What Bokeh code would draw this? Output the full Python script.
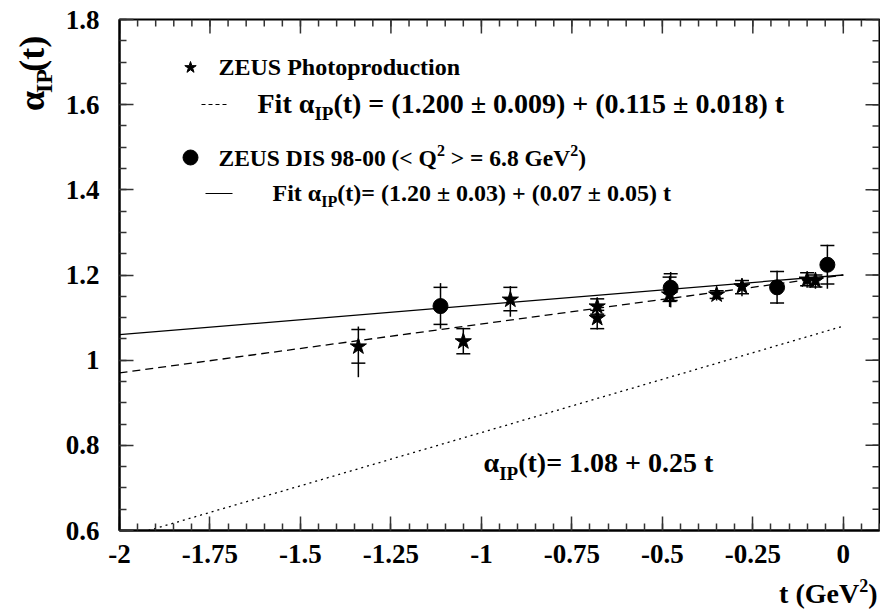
import math
from bokeh.plotting import figure
from bokeh.models import Label, FixedTicker, Range1d
from bokeh.layouts import row, column
from bokeh.embed import file_html
from bokeh.resources import INLINE

# ---------------- data ----------------
# ZEUS photoproduction (stars): point, stat-error caps, total-error extent
photo_t = [-1.34, -1.05, -0.92, -0.68, -0.68, -0.48, -0.35, -0.28, -0.10, -0.077]
photo_a = [1.032, 1.044, 1.142, 1.126, 1.099, 1.154, 1.154, 1.173, 1.189, 1.187]
photo_stat_lo = [0.993, 1.015, 1.116, 1.108, 1.074, 1.138, 1.145, 1.156, 1.175, 1.172]
photo_stat_hi = [1.072, 1.074, 1.171, 1.144, 1.117, 1.195, 1.163, 1.187, 1.205, 1.200]
photo_tot_lo = [0.960, 1.015, 1.102, 1.108, 1.072, 1.125, 1.140, 1.150, 1.170, 1.168]
photo_tot_hi = [1.079, 1.076, 1.174, 1.148, 1.117, 1.198, 1.165, 1.190, 1.207, 1.203]

# ZEUS DIS 98-00 (circles)
dis_t = [-1.113, -0.477, -0.183, -0.044]
dis_a = [1.127, 1.170, 1.171, 1.224]
dis_stat_lo = [1.084, 1.140, 1.134, 1.179]
dis_stat_hi = [1.171, 1.203, 1.208, 1.269]
dis_tot_lo = [1.074, 1.124, 1.132, 1.168]
dis_tot_hi = [1.181, 1.207, 1.210, 1.271]

# fits: intercept, slope
fit_photo = (1.200, 0.115)
fit_dis = (1.20, 0.07)
fit_regge = (1.08, 0.25)
fit_t = [-2.0, 0.0]

x_ticks = [-2, -1.75, -1.5, -1.25, -1, -0.75, -0.5, -0.25, 0]
x_tick_labels = ["-2", "-1.75", "-1.5", "-1.25", "-1", "-0.75", "-0.5", "-0.25", "0"]
y_ticks = [0.6, 0.8, 1.0, 1.2, 1.4, 1.6, 1.8]
y_tick_labels = ["0.6", "0.8", "1", "1.2", "1.4", "1.6", "1.8"]
x_minor = [round(-2 + 0.05 * i, 2) for i in range(43)]
y_minor = [round(0.6 + 0.05 * i, 2) for i in range(25)]
X0, X1, Y0, Y1 = -2.0, 0.1, 0.6, 1.8

FONT = "Liberation Serif"

# ---------------- layout geometry (page px) ----------------
W, H = 880, 616
FL, FR, FT, FB = 119, 879, 19, 530     # plot frame
YT_W = 60                               # strip left of the plot for the y title
XT_TOP = 575                            # strip below the plot for the x title

def blank(width, height, xr, yr):
    f = figure(width=width, height=height, x_range=xr, y_range=yr, output_backend="svg",
               toolbar_location=None, x_axis_location=None, y_axis_location=None,
               min_border=0, outline_line_color=None)
    f.background_fill_color = "white"
    f.border_fill_color = "white"
    f.grid.visible = False
    return f

# ---------------- main figure ----------------
p = figure(width=W - YT_W, height=XT_TOP, x_range=Range1d(X0, X1), y_range=Range1d(Y0, Y1),
           output_backend="svg", toolbar_location=None,
           min_border_left=FL - YT_W, min_border_right=W - FR, min_border_top=FT,
           min_border_bottom=XT_TOP - FB)
p.xgrid.visible = False
p.ygrid.visible = False
p.outline_line_color = "black"
p.outline_line_width = 2
p.background_fill_color = "white"
p.border_fill_color = "white"

xb = p.below[0]
yl = p.left[0]
xb.ticker = FixedTicker(ticks=x_ticks, minor_ticks=x_minor)
yl.ticker = FixedTicker(ticks=y_ticks, minor_ticks=y_minor)
xb.major_label_overrides = {float(t): l for t, l in zip(x_ticks, x_tick_labels)}
yl.major_label_overrides = {float(t): l for t, l in zip(y_ticks, y_tick_labels)}

for ax in [xb, yl]:
    ax.major_tick_in = 14
    ax.major_tick_out = 0
    ax.minor_tick_in = 7
    ax.minor_tick_out = 0
    ax.axis_line_width = 2
    ax.axis_line_color = "black"
    ax.major_tick_line_width = 1.5
    ax.minor_tick_line_width = 1.5
    ax.major_tick_line_color = "#333333"
    ax.minor_tick_line_color = "#333333"
    ax.major_label_text_font = FONT
    ax.major_label_text_font_style = "bold"
    ax.major_label_text_font_size = "27px"
    ax.major_label_text_color = "black"
xb.major_label_standoff = 14
yl.major_label_standoff = 20

# mirrored inward ticks on top and right edges
xpu = (FR - FL) / (X1 - X0)   # px per unit t
ypu = (FB - FT) / (Y1 - Y0)   # px per unit alpha
def top_ticks(ticks, length):
    p.segment(x0=ticks, y0=[Y1] * len(ticks), x1=ticks, y1=[Y1 - length / ypu] * len(ticks),
              line_color="#333333", line_width=1.5)
def right_ticks(ticks, length):
    p.segment(x0=[X1] * len(ticks), y0=ticks, x1=[X1 - length / xpu] * len(ticks), y1=ticks,
              line_color="#333333", line_width=1.5)
top_ticks(x_ticks, 14)
top_ticks(x_minor, 7)
right_ticks(y_ticks, 14)
right_ticks(y_minor, 7)

# ---------------- fit lines ----------------
p.line(fit_t, [fit_dis[0] + fit_dis[1] * t for t in fit_t], line_color="black", line_width=1.3)
p.line(fit_t, [fit_photo[0] + fit_photo[1] * t for t in fit_t], line_color="black", line_width=1.3,
       line_dash="8 5")
p.line(fit_t, [fit_regge[0] + fit_regge[1] * t for t in fit_t], line_color="black", line_width=1.3,
       line_dash="2 4")

# ---------------- data points ----------------
def errbars(t, lo, hi, slo, shi):
    p.segment(x0=t, y0=lo, x1=t, y1=hi, line_color="black", line_width=1.5)
    p.scatter(t, slo, marker="dash", size=14, line_color="black", line_width=1.5)
    p.scatter(t, shi, marker="dash", size=14, line_color="black", line_width=1.5)

errbars(photo_t, photo_tot_lo, photo_tot_hi, photo_stat_lo, photo_stat_hi)
errbars(dis_t, dis_tot_lo, dis_tot_hi, dis_stat_lo, dis_stat_hi)
p.scatter(photo_t, photo_a, marker="star", size=17, fill_color="black", line_color="black")
p.scatter(dis_t, dis_a, marker="circle", size=15, fill_color="black", line_color="black")

# ---------------- text helpers ----------------
def X(px):
    return X0 + (px - FL) / xpu

def Y(py):
    return Y1 - (py - FT) / ypu

def ident(v):
    return v

WID = {' ': 0.25, '(': 0.333, ')': 0.333, '+': 0.57, '=': 0.57, '±': 0.57, '.': 0.25,
       '-': 0.333, '<': 0.57, '>': 0.57, 't': 0.333, 'F': 0.611, 'i': 0.278, 'I': 0.389,
       'P': 0.611, 'G': 0.778, 'e': 0.444, 'V': 0.722, 'Q': 0.778, 'Z': 0.667, 'E': 0.667,
       'U': 0.722, 'S': 0.556, 'D': 0.722, 'α': 0.56}

def tw(s, size):
    return sum(WID.get(c, 0.5) for c in s) * size

def rich(fig, parts, px, base, angle=0.0, xm=X, ym=Y):
    """parts: (text, size, shift) with shift in px below the main baseline."""
    adv = 0.0
    for text, size, dy in parts:
        lead = len(text) - len(text.lstrip(' '))
        adv += lead * WID[' '] * size
        body = text.lstrip(' ')
        if angle == 0:
            cx, cy = px + adv, base + dy - 0.34 * size
        else:
            cx, cy = px + dy - 0.34 * size, base - adv
        fig.add_layout(Label(x=xm(cx), y=ym(cy), text=body, angle=angle,
                             text_font=FONT, text_font_size=f"{size}px", text_font_style="bold",
                             text_baseline="middle", text_align="left", text_color="black"))
        adv += tw(body, size)
    return adv

# legend
p.scatter([X(190)], [Y(67)], marker="star", size=12, fill_color="black", line_color="black")
rich(p, [("ZEUS Photoproduction", 24, 0)], 218, 75)
p.line([X(201), X(226)], [Y(104), Y(104)], line_color="black", line_width=1, line_dash="4 3")
rich(p, [("Fit α", 28, 0), ("IP", 19, 6), ("(t) = (1.200 ± 0.009) + (0.115 ± 0.018) t", 28, 0)], 257, 113)
p.scatter([X(190)], [Y(157)], marker="circle", size=15, fill_color="black", line_color="black")
rich(p, [("ZEUS DIS 98-00 (< Q", 23.5, 0), ("2", 16, -10), (" > = 6.8 GeV", 23.5, 0), ("2", 16, -10),
         (")", 23.5, 0)], 218, 165)
p.line([X(205), X(232)], [Y(193), Y(193)], line_color="black", line_width=1)
rich(p, [("Fit α", 24, 0), ("IP", 16, 5), ("(t)= (1.20 ± 0.03) + (0.07 ± 0.05) t", 24, 0)], 272, 201)

# annotation for the dotted line
rich(p, [("α", 28, 0), ("IP", 19, 7), ("(t)= 1.08 + 0.25 t", 28, 0)], 483, 472)

# ---------------- axis titles in their own strips ----------------
yfig = blank(YT_W, XT_TOP, Range1d(0, YT_W), Range1d(XT_TOP, 0))
rich(yfig, [("α", 36, 0), ("IP", 24, 8), ("(t)", 36, 0)], 44, 103, angle=math.pi / 2,
     xm=ident, ym=ident)

xfig = blank(W, H - XT_TOP, Range1d(0, W), Range1d(H, XT_TOP))
xw = tw("t (GeV", 28) + tw("2", 18) + tw(")", 28)
rich(xfig, [("t (GeV", 28, 0), ("2", 18, -12), (")", 28, 0)], 877 - xw, 603, xm=ident, ym=ident)

layout = column(row(yfig, p, spacing=0), xfig, spacing=0)
open("out.html", "w").write(file_html(layout, INLINE))
